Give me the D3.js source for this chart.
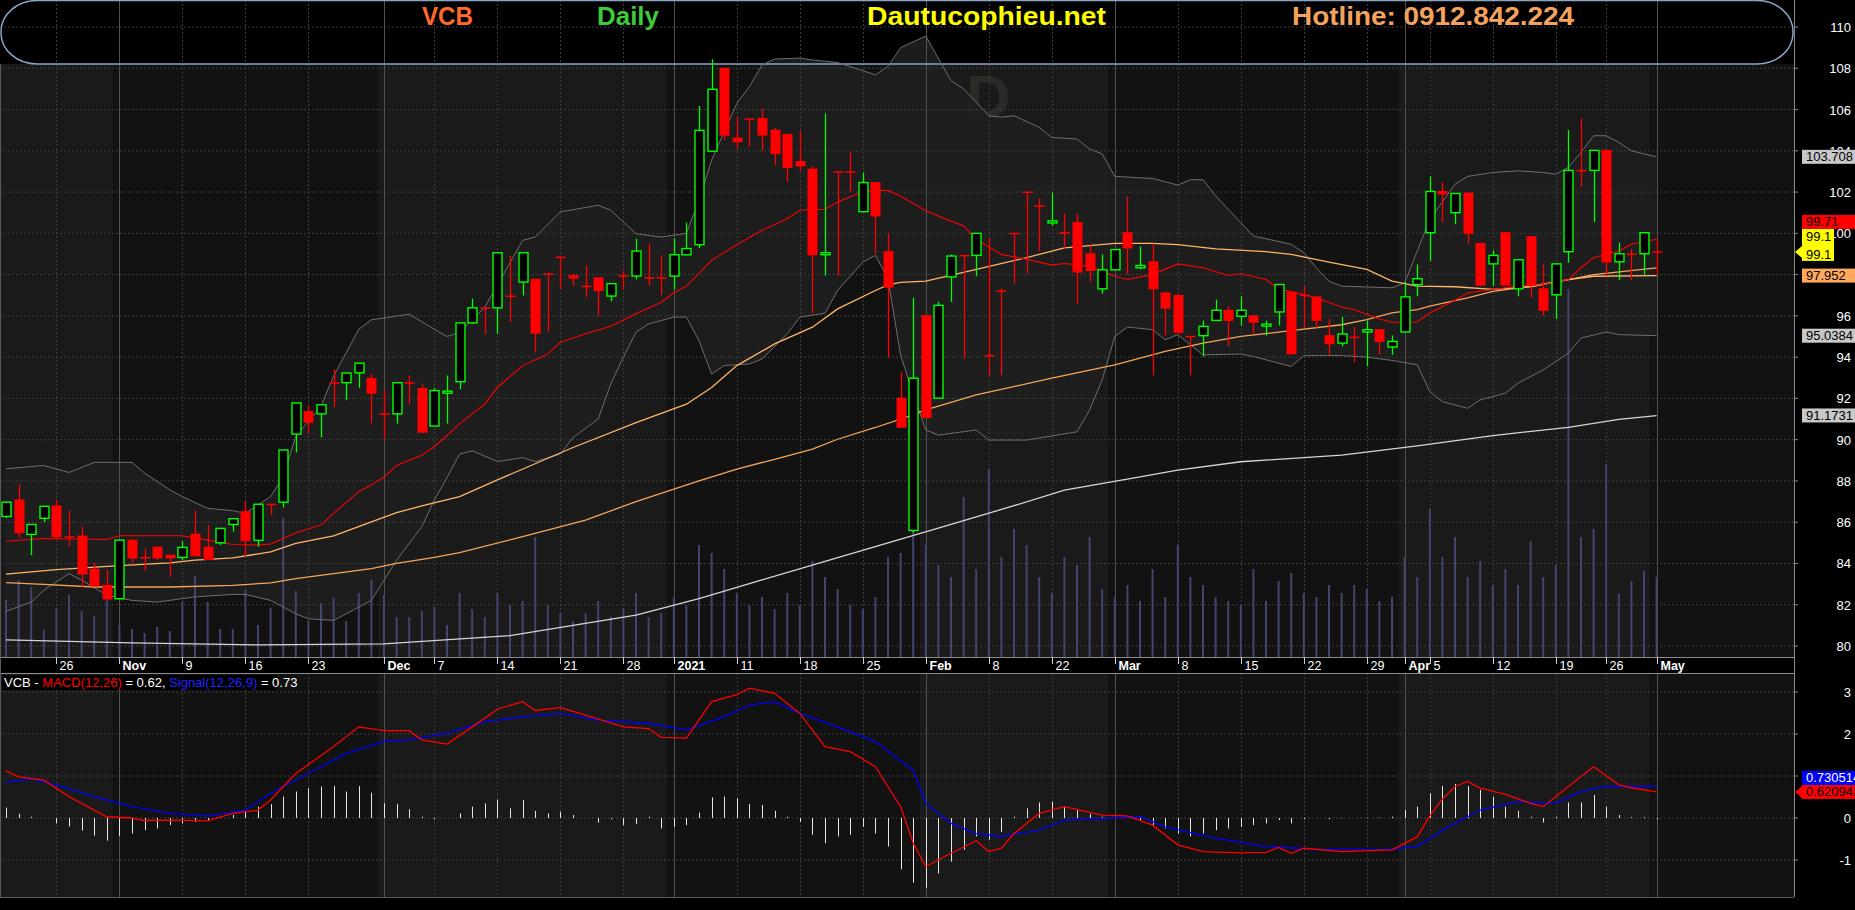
<!DOCTYPE html>
<html>
<head>
<meta charset="utf-8">
<script src="https://cdn.jsdelivr.net/npm/d3@7"></script>
<style>
  html, body { margin: 0; padding: 0; background: #000; }
  svg { display: block; }
  text { font-family: "Liberation Sans", Arial, sans-serif; }
</style>
</head>
<body>
<svg id="chart" width="1855" height="910"></svg>
<script>
// ---- data ----
const tradingDays = [
  "2020-10-20","2020-10-21","2020-10-22","2020-10-23","2020-10-26","2020-10-27","2020-10-28","2020-10-29","2020-10-30",
  "2020-11-02","2020-11-03","2020-11-04","2020-11-05","2020-11-06","2020-11-09","2020-11-10","2020-11-11","2020-11-12","2020-11-13",
  "2020-11-16","2020-11-17","2020-11-18","2020-11-19","2020-11-20","2020-11-23","2020-11-24","2020-11-25","2020-11-26","2020-11-27","2020-11-30",
  "2020-12-01","2020-12-02","2020-12-03","2020-12-04","2020-12-07","2020-12-08","2020-12-09","2020-12-10","2020-12-11",
  "2020-12-14","2020-12-15","2020-12-16","2020-12-17","2020-12-18","2020-12-21","2020-12-22","2020-12-23","2020-12-24","2020-12-25",
  "2020-12-28","2020-12-29","2020-12-30","2020-12-31",
  "2021-01-04","2021-01-05","2021-01-06","2021-01-07","2021-01-08","2021-01-11","2021-01-12","2021-01-13","2021-01-14","2021-01-15",
  "2021-01-18","2021-01-19","2021-01-20","2021-01-21","2021-01-22","2021-01-25","2021-01-26","2021-01-27","2021-01-28","2021-01-29",
  "2021-02-01","2021-02-02","2021-02-03","2021-02-04","2021-02-05","2021-02-08","2021-02-09","2021-02-17","2021-02-18","2021-02-19",
  "2021-02-22","2021-02-23","2021-02-24","2021-02-25","2021-02-26",
  "2021-03-01","2021-03-02","2021-03-03","2021-03-04","2021-03-05","2021-03-08","2021-03-09","2021-03-10","2021-03-11","2021-03-12",
  "2021-03-15","2021-03-16","2021-03-17","2021-03-18","2021-03-19","2021-03-22","2021-03-23","2021-03-24","2021-03-25","2021-03-26",
  "2021-03-29","2021-03-30","2021-03-31",
  "2021-04-01","2021-04-02","2021-04-05","2021-04-06","2021-04-07","2021-04-08","2021-04-09","2021-04-12","2021-04-13","2021-04-14",
  "2021-04-15","2021-04-16","2021-04-19","2021-04-20","2021-04-22","2021-04-23","2021-04-26","2021-04-27","2021-04-28","2021-04-29",
  "2021-05-04"
];

const opens = [
  86.28,87.08,85.41,86.19,86.79,85.3,85.33,83.72,82.94,82.29,
  85.13,84.29,84.79,84.4,84.29,85.42,84.79,85.0,85.89,86.51,
  85.12,86.87,86.97,90.27,91.36,91.25,92.76,92.76,93.24,92.97,
  91.25,91.25,92.76,92.48,90.66,92.27,92.81,95.66,96.39,96.39,
  96.96,97.64,97.77,98.04,98.85,97.95,97.44,97.85,96.96,97.94,
  97.93,97.85,97.85,97.93,98.96,99.45,103.98,108.0,104.62,105.55,
  105.57,105.0,104.79,103.48,103.11,98.96,102.98,102.98,101.05,102.46,
  99.11,92.01,85.6,96.01,92.01,97.89,98.93,98.93,94.08,97.21,
  100.0,102.0,101.33,100.52,100.03,100.52,99.01,97.31,98.23,100.03,
  98.33,98.62,97.11,96.99,95.01,95.04,95.78,96.27,95.98,96.0,
  95.51,96.19,97.15,97.0,96.92,95.04,94.68,94.97,95.22,95.33,
  94.49,95.22,97.52,100.03,102.03,101.0,101.95,99.51,98.52,100.03,
  97.31,99.84,97.31,97.02,99.11,103.05,103.05,104.02,98.62,99.0,
  99.01,99.1
];
const highs = [
  87.0,87.86,85.89,86.77,87.08,86.56,85.77,84.05,83.67,85.13,
  85.16,84.74,84.79,84.4,85.08,86.54,85.86,85.73,86.17,87.05,
  86.87,86.87,89.5,91.78,91.65,91.69,93.4,93.23,93.71,93.19,
  92.43,92.76,93.11,92.73,92.51,93.11,95.66,96.83,96.39,99.06,
  98.9,99.06,97.77,98.04,98.85,98.04,98.44,97.85,97.56,98.17,
  99.74,99.5,98.93,99.74,100.52,106.17,108.44,108.0,105.65,105.55,
  106.03,105.13,104.84,104.97,103.27,105.81,102.98,103.95,102.95,102.46,
  100.0,93.27,96.87,96.01,96.68,98.98,98.93,100.0,99.79,97.32,
  100.0,102.0,101.69,101.98,100.96,100.96,99.45,98.98,99.21,101.78,
  99.37,99.5,97.16,96.99,95.01,95.77,96.79,96.47,96.95,96.0,
  95.77,97.52,97.15,97.44,96.92,95.85,95.95,95.46,95.77,95.33,
  95.05,97.64,98.49,102.76,102.47,101.93,101.95,99.51,99.17,100.03,
  98.72,99.84,98.49,98.52,105.0,105.58,104.02,104.02,99.55,99.25,
  100.03,99.71
];
const lows = [
  86.2,85.25,84.4,86.0,85.2,84.81,82.86,82.86,82.28,82.29,
  84.03,83.64,84.16,83.35,84.16,84.37,84.19,84.89,85.54,84.32,
  84.81,86.33,86.71,89.38,90.29,90.11,91.57,91.91,92.51,90.78,
  90.03,90.78,91.7,90.36,90.66,90.78,92.45,95.61,95.13,95.13,
  95.69,96.99,94.24,95.21,97.31,97.47,96.91,95.97,96.71,97.28,
  97.77,97.47,96.99,97.28,98.96,99.29,103.98,104.52,104.11,104.19,
  104.0,103.3,102.49,103.03,96.13,97.96,97.96,102.0,101.05,99.01,
  93.98,90.6,85.5,91.07,92.01,96.68,93.95,97.92,93.09,93.11,
  97.55,98.04,99.14,100.36,99.25,96.58,97.63,97.07,98.23,98.0,
  98.25,93.11,95.05,95.09,93.11,94.03,95.78,94.52,95.52,95.14,
  95.04,95.54,94.16,95.41,95.41,94.11,94.52,93.74,93.55,94.11,
  94.11,95.22,96.95,98.65,100.55,100.44,99.51,97.49,97.44,97.49,
  96.95,96.87,96.01,95.85,98.57,102.25,100.55,97.92,97.73,97.73,
  98.0,97.97
];
const closes = [
  86.97,85.49,85.89,86.77,85.29,85.28,83.49,82.91,82.28,85.13,
  84.27,84.28,84.27,84.27,84.78,84.37,84.19,85.7,86.17,85.1,
  86.87,86.86,89.5,91.78,90.84,91.69,92.75,93.23,93.71,92.25,
  91.24,92.76,92.75,90.36,92.38,92.35,95.66,96.39,96.38,99.06,
  96.95,99.06,95.16,98.03,98.84,97.83,97.43,97.23,97.56,97.93,
  99.14,97.84,97.84,98.96,99.26,104.99,106.98,104.76,104.44,105.54,
  104.76,103.87,103.19,103.27,98.96,99.06,102.97,102.97,102.46,100.84,
  97.39,90.6,92.98,91.07,96.51,98.9,98.92,100.0,94.07,97.2,
  99.99,101.99,101.32,100.6,100.02,98.12,98.2,98.23,99.21,99.29,
  98.44,97.31,96.37,95.2,95.0,95.49,96.27,95.78,96.27,95.69,
  95.6,97.52,94.16,96.99,95.78,94.65,95.12,94.96,95.33,94.76,
  94.76,96.92,97.8,102.03,101.91,101.93,100.0,97.49,98.93,97.49,
  98.72,97.49,96.27,98.52,103.05,103.04,104.02,98.61,99.01,98.99,
  100.03,99.1
];
// volume, millions of shares
const volumes = [
  1.43,1.93,1.75,0.68,1.23,1.55,1.15,1.03,1.5,0.8,
  0.7,0.6,0.75,0.65,1.38,2.03,1.38,0.7,0.7,1.68,
  0.8,1.23,3.48,1.65,0.9,1.35,1.48,0.9,1.6,1.93,
  1.55,1.0,1.0,1.15,1.25,0.8,1.6,1.2,1.0,1.6,
  1.3,1.4,3.0,1.3,1.1,0.9,1.1,1.4,1.0,1.2,
  1.6,1.0,1.1,1.5,1.3,2.8,2.6,2.2,1.6,1.3,
  1.5,1.2,1.6,1.3,2.4,2.0,1.7,1.3,1.2,1.5,
  2.5,2.6,3.3,2.8,2.3,2.0,4.0,2.2,4.7,2.5,
  3.2,2.8,2.0,1.6,2.5,2.3,3.0,1.7,1.5,1.8,
  1.4,2.2,1.5,2.8,2.0,1.8,1.5,1.4,1.3,2.2,
  1.4,1.9,2.1,1.6,1.5,1.8,1.6,1.8,1.7,1.4,
  1.5,2.5,2.0,3.7,2.5,3.0,2.0,2.4,1.8,2.2,
  1.8,2.9,2.0,2.3,9.2,3.0,3.2,4.83,1.58,1.9,
  2.15,2.0
];

// overlays: [bar index, price]
const ma20 = [[0,85.08],[3,85.21],[8,85.16],[9,85.34],[14,85.34],[16,85.13],[18,84.92],[20,84.89],[21,84.94],[22,85.21],[23,85.49],[25,85.86],[26,86.43],[28,87.48],[29,87.81],[30,88.18],[31,88.75],[33,89.24],[34,89.67],[35,90.2],[36,90.78],[38,91.72],[39,92.53],[41,93.59],[43,94.15],[44,94.72],[46,95.13],[48,95.5],[50,96.1],[52,96.66],[53,97.12],[54,97.44],[56,98.69],[58,99.45],[60,100.15],[62,100.71],[63,101.12],[65,101.17],[66,101.52],[68,102.01],[69,102.09],[70,102.08],[71,101.8],[73,101.09],[74,100.84],[76,100.36],[77,99.71],[79,98.98],[81,98.74],[83,98.46],[84,98.54],[86,98.41],[88,97.92],[89,97.76],[91,98.0],[93,98.52],[95,98.33],[97,97.96],[98,98.04],[100,97.76],[101,97.31],[103,97.03],[104,96.87],[106,96.43],[107,96.3],[109,95.85],[110,95.69],[112,95.7],[113,96.14],[115,96.76],[116,97.11],[118,97.28],[120,97.44],[122,97.52],[124,97.76],[125,98.33],[126,98.82],[128,99.14],[129,99.47],[131,99.71]];
const ma50 = [[0,83.48],[4,83.7],[9,83.9],[13,84.03],[15,84.16],[18,84.27],[21,84.56],[23,84.97],[26,85.34],[29,86.02],[31,86.46],[33,86.79],[36,87.24],[39,88.05],[45,89.62],[50,90.83],[54,91.72],[56,92.53],[58,93.59],[61,94.64],[64,95.45],[66,96.34],[69,97.23],[70,97.5],[71,97.62],[73,97.68],[77,98.25],[81,98.82],[84,99.3],[88,99.51],[91,99.51],[93,99.45],[96,99.25],[100,99.11],[102,98.98],[105,98.6],[108,98.25],[110,97.68],[112,97.44],[115,97.41],[118,97.28],[121,97.41],[124,97.76],[126,97.92],[131,97.95]];
const ma100 = [[0,83.07],[3,82.99],[7,82.86],[13,82.86],[18,82.94],[21,83.06],[23,83.27],[26,83.51],[29,83.75],[31,84.0],[34,84.29],[36,84.52],[41,85.3],[46,86.1],[50,87.0],[55,88.0],[58,88.57],[61,89.05],[64,89.54],[66,90.02],[69,90.59],[71,91.0],[73,91.44],[77,92.17],[83,92.98],[88,93.63],[92,94.28],[95,94.68],[98,95.01],[102,95.28],[106,95.57],[108,95.82],[110,96.14],[112,96.3],[113,96.47],[116,96.87],[118,97.19],[121,97.44],[124,97.76],[126,98.0],[131,98.33]];
const ma200 = [[0,80.3],[10,80.15],[20,80.05],[30,80.1],[40,80.5],[50,81.5],[55,82.3],[60,83.2],[65,84.1],[70,85.0],[75,85.9],[80,86.8],[84,87.55],[90,88.2],[93,88.52],[98,88.93],[106,89.25],[112,89.7],[118,90.2],[124,90.6],[128,90.98],[131,91.17]];
const bbUpper = [[0,88.59],[3,88.75],[5,88.41],[7,88.9],[10,88.9],[11,88.38],[13,87.57],[14,87.24],[16,86.67],[18,86.56],[19,86.43],[21,87.24],[22,88.21],[23,90.16],[25,91.62],[26,93.08],[28,95.35],[29,95.81],[32,96.08],[34,95.35],[35,95.0],[36,95.2],[38,96.42],[41,99.66],[42,99.82],[44,101.04],[47,101.36],[48,101.12],[50,99.98],[52,99.82],[54,100.0],[55,101.6],[56,103.55],[58,106.3],[59,107.11],[60,108.16],[61,108.45],[63,108.49],[64,108.4],[66,108.28],[69,107.68],[70,108.1],[71,109.0],[73,109.56],[75,107.4],[76,107.0],[78,105.7],[79,105.63],[80,105.7],[82,105.14],[83,104.65],[85,104.57],[86,104.09],[87,103.85],[88,102.76],[91,102.66],[93,102.34],[94,102.6],[95,102.6],[96,101.82],[98,100.52],[99,99.87],[102,99.47],[103,99.06],[104,98.33],[105,97.68],[106,97.44],[110,97.36],[111,97.6],[113,100.68],[115,102.38],[116,102.76],[118,102.95],[120,103.03],[122,102.95],[123,102.87],[124,103.2],[125,103.92],[126,104.73],[127,104.73],[128,104.41],[129,104.0],[131,103.71]];
const bbLower = [[0,81.68],[2,82.13],[3,82.7],[5,83.51],[6,83.19],[8,82.46],[10,82.21],[12,82.13],[15,82.38],[18,82.5],[19,82.5],[21,82.21],[23,81.56],[24,81.32],[26,81.24],[27,81.56],[29,82.21],[31,84.16],[33,85.78],[34,87.08],[35,88.16],[36,89.3],[37,89.46],[39,88.94],[41,89.13],[42,88.94],[44,89.3],[45,90.1],[47,91.0],[48,92.7],[49,94.0],[50,95.21],[51,95.61],[53,95.94],[54,95.94],[55,94.8],[56,93.18],[57,93.59],[59,93.67],[60,93.91],[62,95.13],[63,95.94],[65,96.13],[66,97.23],[68,98.6],[69,98.93],[70,97.8],[71,94.1],[72,92.2],[73,90.47],[74,90.22],[77,90.47],[78,89.98],[81,89.98],[85,90.38],[86,91.44],[87,92.9],[88,95.0],[89,95.46],[91,95.33],[92,94.84],[93,95.09],[95,94.11],[98,94.15],[99,94.03],[102,93.55],[103,94.07],[106,94.08],[108,94.0],[110,93.84],[112,93.63],[113,92.33],[114,91.84],[116,91.52],[117,91.93],[119,92.25],[120,92.74],[122,93.38],[124,94.19],[125,94.92],[127,95.22],[128,95.09],[131,95.04]];

// MACD(12,26) and Signal(12,26,9): [bar index, value]
const macdLine = [[0,1.12],[1,0.98],[3,0.9],[5,0.51],[8,0.03],[10,0.0],[11,-0.06],[13,-0.05],[16,-0.07],[18,0.11],[20,0.19],[21,0.43],[23,1.06],[26,1.7],[28,2.17],[30,2.08],[32,2.08],[33,1.86],[35,1.76],[37,2.17],[39,2.59],[41,2.77],[42,2.56],[44,2.63],[46,2.45],[49,2.17],[51,2.13],[52,1.92],[54,1.9],[56,2.77],[58,2.94],[59,3.09],[61,2.97],[63,2.49],[65,1.7],[67,1.58],[69,1.22],[71,0.27],[72,-0.6],[73,-1.16],[75,-0.84],[77,-0.54],[78,-0.8],[79,-0.72],[80,-0.37],[82,0.11],[84,0.27],[87,0.07],[89,0.05],[91,-0.17],[93,-0.64],[95,-0.8],[98,-0.83],[100,-0.82],[101,-0.7],[102,-0.84],[103,-0.72],[106,-0.8],[110,-0.76],[112,-0.45],[113,0.05],[114,0.45],[115,0.75],[116,0.87],[117,0.71],[119,0.56],[121,0.35],[122,0.27],[124,0.75],[126,1.22],[128,0.79],[129,0.72],[131,0.62]];
const signalLine = [[0,0.85],[2,0.93],[4,0.79],[7,0.51],[10,0.27],[13,0.11],[16,0.05],[19,0.19],[21,0.59],[24,1.06],[27,1.54],[30,1.82],[32,1.86],[35,2.02],[38,2.29],[41,2.41],[44,2.49],[47,2.33],[51,2.25],[54,2.1],[57,2.41],[59,2.69],[61,2.77],[63,2.49],[66,2.17],[69,1.82],[72,1.14],[73,0.35],[75,-0.13],[77,-0.37],[79,-0.44],[82,-0.29],[84,-0.05],[87,-0.01],[90,0.03],[92,-0.21],[96,-0.48],[100,-0.68],[104,-0.74],[109,-0.76],[112,-0.68],[114,-0.29],[117,0.19],[120,0.39],[123,0.35],[125,0.63],[127,0.76],[129,0.75],[131,0.76]];
const macdHist = [
  0.25,0.1,0.03,0,-0.13,-0.2,-0.3,-0.42,-0.54,-0.43,
  -0.37,-0.29,-0.25,-0.17,-0.13,-0.09,-0.05,0.02,0.07,0.15,
  0.27,0.33,0.51,0.63,0.71,0.75,0.76,0.63,0.76,0.6,
  0.35,0.33,0.21,0.03,-0.03,0,0.11,0.27,0.35,0.44,
  0.23,0.43,0.17,0.11,0.15,0.07,0,-0.11,-0.03,-0.17,
  -0.14,0.03,-0.25,-0.21,-0.17,0.13,0.49,0.51,0.47,0.33,
  0.31,0.17,0.03,-0.09,-0.4,-0.6,-0.44,-0.4,-0.21,-0.37,
  -0.68,-1.22,-1.54,-1.66,-1.32,-1.04,-0.76,-0.44,-0.52,-0.33,
  0.03,0.23,0.37,0.39,0.27,0.19,0.1,0.03,0.02,0.03,
  -0.05,-0.17,-0.25,-0.37,-0.44,-0.37,-0.29,-0.25,-0.21,-0.17,
  -0.13,-0.05,-0.13,-0.03,0,-0.03,-0.01,0,0.01,0.01,
  0.03,0.19,0.27,0.59,0.76,0.81,0.76,0.67,0.51,0.27,
  0.17,0.03,-0.11,0.03,0.37,0.37,0.55,0.27,0.07,0.02,
  0.02,-0.03
];

// date axis ticks
const tickDates = ["2020-10-26","2020-11-02","2020-11-09","2020-11-16","2020-11-23","2020-12-01","2020-12-07","2020-12-14","2020-12-21","2020-12-28","2021-01-04","2021-01-11","2021-01-18","2021-01-25","2021-02-01","2021-02-08","2021-02-22","2021-03-01","2021-03-08","2021-03-15","2021-03-22","2021-03-29","2021-04-01","2021-04-05","2021-04-12","2021-04-19","2021-04-26","2021-05-04"];
const tickLabels = ["26","Nov","9","16","23","Dec","7","14","21","28","2021","11","18","25","Feb","8","22","Mar","8","15","22","29","Apr","5","12","19","26","May"];
const priceTicks = d3.range(80, 111, 2);
const macdTicks = [-1, 0, 1, 2, 3];

// value tags on the right axis
const priceTags = [
  {v: 103.708, text: ["103.708"], bg: "#c8c8c8", fg: "#000"},
  {v: 99.71, text: ["99.71"], bg: "#ff0000", fg: "#000"},
  {v: 99.1, text: ["99.1", "99.1"], bg: "#ffff00", fg: "#000", arrow: true},
  {v: 97.952, text: ["97.952"], bg: "#ffa95e", fg: "#000"},
  {v: 95.0384, text: ["95.0384"], bg: "#c8c8c8", fg: "#000"},
  {v: 91.1731, text: ["91.1731"], bg: "#c8c8c8", fg: "#000"}
];
const macdTags = [
  {v: 0.730514, text: ["0.730514"], bg: "#0000ff", fg: "#fff"},
  {v: 0.620942, text: ["0.620942"], bg: "#ff0000", fg: "#000", arrow: true}
];

// ---- layout ----
const plotR = 1794, priceTop = 64, priceBot = 657, macdTop = 673, macdBot = 897;
const svg = d3.select("#chart");

const x = d3.scaleLinear().domain([0, tradingDays.length - 1]).range([6, 1656.6]);
const step = x(1) - x(0);
const y = d3.scaleLinear().domain([80, 110]).range([646, 27]);
const yVol = d3.scaleLinear().domain([0, 10]).range([priceBot, 257]);
const yM = d3.scaleLinear().domain([-1, 3]).range([860, 692]);

svg.append("rect").attr("width", 1855).attr("height", 910).attr("fill", "#000");

// alternating month background
const months = d3.groups(tradingDays.map((d, i) => ({d, i})), o => o.d.slice(0, 7));
months.forEach(([key, arr], mi) => {
  const x0 = mi === 0 ? 0 : x(arr[0].i) - step / 2;
  const x1 = mi === months.length - 1 ? plotR : x(arr[arr.length - 1].i) + step / 2;
  const fill = mi % 2 === 0 ? "#1a1a1a" : "#121212";
  [[priceTop, priceBot], [macdTop, macdBot]].forEach(([t, b]) => {
    svg.append("rect").attr("x", x0).attr("y", t).attr("width", x1 - x0).attr("height", b - t).attr("fill", fill);
  });
});

// watermark, mostly hidden behind the header
svg.append("text").attr("x", 966).attr("y", 118).attr("font-size", 62).attr("font-weight", "bold")
  .attr("fill", "#2c2a27").text("D");

// header pill
svg.append("rect").attr("x", 1).attr("y", 0.5).attr("width", plotR - 2).attr("height", 63.5)
  .attr("rx", 36).attr("ry", 31).attr("fill", "#000");

// bollinger band fill
const ptLine = d3.line().x(d => x(d[0])).y(d => y(d[1]));
svg.append("path")
  .attr("d", ptLine(bbUpper.concat(bbLower.slice().reverse())) + "Z")
  .attr("fill", "#1e1e1e").attr("fill-opacity", 0.92);

// grid
const grid = svg.append("g");
priceTicks.forEach(v => {
  grid.append("line").attr("x1", 0).attr("x2", plotR).attr("y1", y(v)).attr("y2", y(v))
    .attr("stroke", "#3d3d3d").attr("stroke-dasharray", "2,2");
});
macdTicks.forEach(v => {
  grid.append("line").attr("x1", 0).attr("x2", plotR).attr("y1", yM(v)).attr("y2", yM(v))
    .attr("stroke", "#3d3d3d").attr("stroke-dasharray", "2,2");
});
const isMonth = l => isNaN(+l) || l === "2021";
tickDates.forEach((d, k) => {
  const tx = Math.round(x(tradingDays.indexOf(d))) + 0.5;
  const month = isMonth(tickLabels[k]);
  [[0, priceBot], [macdTop, macdBot]].forEach(([t, b]) => {
    grid.append("line").attr("x1", tx).attr("x2", tx).attr("y1", t).attr("y2", b)
      .attr("stroke", month ? "#505050" : "#3d3d3d")
      .attr("stroke-dasharray", month ? null : "2,2");
  });
});

// volume
svg.append("g").selectAll("rect").data(volumes).join("rect")
  .attr("x", (d, i) => x(i) - 1).attr("width", 2)
  .attr("y", d => yVol(d)).attr("height", d => priceBot - yVol(d))
  .attr("fill", "#44446e");

// pill outline
svg.append("rect").attr("x", 1).attr("y", 0.5).attr("width", plotR - 2).attr("height", 63.5)
  .attr("rx", 36).attr("ry", 31).attr("fill", "none").attr("stroke", "#8aa4c4").attr("stroke-width", 1.5);

// overlay lines
const lines = [
  {data: bbUpper, color: "#6e6e6e", w: 1},
  {data: bbLower, color: "#6e6e6e", w: 1},
  {data: ma200, color: "#d6d6d6", w: 1.3},
  {data: ma100, color: "#f5a55a", w: 1.3},
  {data: ma50, color: "#ffb56a", w: 1.3},
  {data: ma20, color: "#ff0000", w: 1.1}
];
lines.forEach(l => {
  svg.append("path").attr("d", ptLine(l.data)).attr("fill", "none")
    .attr("stroke", l.color).attr("stroke-width", l.w);
});

// candles
const bw = 9;
const candles = svg.append("g");
tradingDays.forEach((d, i) => {
  const o = opens[i], c = closes[i], h = highs[i], l = lows[i];
  const cx = Math.round(x(i)) + 0.5;
  const up = c > o;
  const col = up ? "#00ff00" : "#ff0000";
  const top = y(Math.max(o, c)), bot = y(Math.min(o, c));
  if (up) {
    candles.append("line").attr("x1", cx).attr("x2", cx).attr("y1", y(h)).attr("y2", top).attr("stroke", col).attr("stroke-width", 1.3);
    candles.append("line").attr("x1", cx).attr("x2", cx).attr("y1", bot).attr("y2", y(l)).attr("stroke", col).attr("stroke-width", 1.3);
    candles.append("rect").attr("x", cx - bw / 2).attr("y", top).attr("width", bw).attr("height", Math.max(2, bot - top))
      .attr("fill", "#000").attr("stroke", col).attr("stroke-width", 1.4);
  } else {
    candles.append("line").attr("x1", cx).attr("x2", cx).attr("y1", y(h)).attr("y2", y(l)).attr("stroke", col).attr("stroke-width", 1.3);
    candles.append("rect").attr("x", cx - bw / 2 - 0.5).attr("y", top - 0.5).attr("width", bw + 1).attr("height", Math.max(1.5, bot - top + 1))
      .attr("fill", col);
  }
});

// MACD histogram and lines
svg.append("g").selectAll("line").data(macdHist).join("line")
  .attr("x1", (d, i) => Math.round(x(i)) + 0.5).attr("x2", (d, i) => Math.round(x(i)) + 0.5)
  .attr("y1", yM(0)).attr("y2", d => yM(d))
  .attr("stroke", "#e6e6e6").attr("stroke-width", 1);
const mLine = d3.line().x(d => x(d[0])).y(d => yM(d[1]));
svg.append("path").attr("d", mLine(signalLine)).attr("fill", "none").attr("stroke", "#0000ff").attr("stroke-width", 1.3);
svg.append("path").attr("d", mLine(macdLine)).attr("fill", "none").attr("stroke", "#ff0000").attr("stroke-width", 1.3);

// MACD legend
const leg = svg.append("g");
leg.append("rect").attr("x", 2).attr("y", 675).attr("width", 274).attr("height", 15).attr("fill", "#000");
const legText = leg.append("text").attr("x", 4).attr("y", 687).attr("font-size", 13);
[["VCB - ", "#fff"], ["MACD(12,26)", "#ff0000"], [" = 0.62, ", "#fff"], ["Signal(12,26,9)", "#2222ff"], [" = 0.73", "#fff"]]
  .forEach(([t, c]) => legText.append("tspan").attr("fill", c).text(t));

// date axis band
svg.append("rect").attr("x", 0).attr("y", priceBot).attr("width", plotR).attr("height", macdTop - priceBot).attr("fill", "#000");
[priceBot, macdTop].forEach(v => {
  svg.append("line").attr("x1", 0).attr("x2", plotR).attr("y1", v + 0.5).attr("y2", v + 0.5).attr("stroke", "#8a8a8a");
});
tickDates.forEach((d, k) => {
  const tx = Math.round(x(tradingDays.indexOf(d))) + 0.5;
  svg.append("line").attr("x1", tx).attr("x2", tx).attr("y1", priceBot).attr("y2", priceBot + 7).attr("stroke", "#cfcfcf");
  svg.append("text").attr("x", tx + 3).attr("y", 670).attr("font-size", 12.5)
    .attr("font-weight", isMonth(tickLabels[k]) ? "bold" : "normal")
    .attr("fill", "#fff").text(tickLabels[k]);
});

// left border and right axis
svg.append("line").attr("x1", 0.5).attr("x2", 0.5).attr("y1", priceTop).attr("y2", macdBot).attr("stroke", "#5a5a5a");
svg.append("line").attr("x1", plotR + 0.5).attr("x2", plotR + 0.5).attr("y1", 0).attr("y2", macdBot).attr("stroke", "#8a8a8a");
svg.append("line").attr("x1", 0).attr("x2", plotR).attr("y1", macdBot + 0.5).attr("y2", macdBot + 0.5).attr("stroke", "#5a5a5a");
const axisG = svg.append("g").attr("font-size", 13).attr("fill", "#fff").attr("text-anchor", "end");
priceTicks.forEach(v => {
  axisG.append("line").attr("x1", plotR).attr("x2", plotR + 4).attr("y1", y(v)).attr("y2", y(v)).attr("stroke", "#8a8a8a");
  axisG.append("text").attr("x", 1851).attr("y", y(v) + 5).text(v);
});
macdTicks.forEach(v => {
  axisG.append("line").attr("x1", plotR).attr("x2", plotR + 4).attr("y1", yM(v)).attr("y2", yM(v)).attr("stroke", "#8a8a8a");
  axisG.append("text").attr("x", 1851).attr("y", yM(v) + 5).text(v);
});

// tags: stack upward from the lowest so boxes never overlap
function drawTags(tags, scale) {
  const lineH = 14;
  const sorted = tags.slice().sort((a, b) => a.v - b.v);
  let ceiling = Infinity;
  sorted.forEach(t => {
    const hgt = lineH * t.text.length + 4 * (t.text.length - 1);
    const anchorY = scale(t.v);
    let bottom = t.text.length > 1 ? anchorY + lineH / 2 + 2 : anchorY + lineH / 2;
    bottom = Math.min(bottom, ceiling);
    const top = bottom - hgt;
    ceiling = top;
    const g = svg.append("g");
    const bx = 1802;
    const width = t.text.length > 1 ? 32 : 53;
    g.append("rect").attr("x", bx).attr("y", top).attr("width", width).attr("height", hgt).attr("fill", t.bg);
    if (t.arrow) {
      g.append("path").attr("d", `M${plotR + 1},${anchorY} L${bx},${anchorY - 6} L${bx},${anchorY + 6} Z`).attr("fill", t.bg);
    }
    t.text.forEach((s, k) => {
      g.append("text").attr("x", bx + 4).attr("y", top + 11.5 + k * (lineH + 4) + (t.text.length > 1 ? 1 : 0))
        .attr("font-size", 13).attr("fill", t.fg).text(s);
    });
  });
}
drawTags(priceTags, y);
drawTags(macdTags, yM);

// header texts
const header = [
  {t: "VCB", x: 422, w: 51, c: "#ff6a2c"},
  {t: "Daily", x: 597, w: 62, c: "#3ccc3c"},
  {t: "Dautucophieu.net", x: 867, w: 239, c: "#ffff00"},
  {t: "Hotline: 0912.842.224", x: 1292, w: 282, c: "#f4a35e"}
];
header.forEach(h => {
  svg.append("text").attr("x", h.x).attr("y", 25).attr("font-size", 25).attr("font-weight", "bold")
    .style("font-family", '"Liberation Sans Narrow", "Arial Narrow", sans-serif')
    .attr("textLength", h.w).attr("lengthAdjust", "spacingAndGlyphs")
    .attr("fill", h.c).text(h.t);
});
</script>
</body>
</html>
